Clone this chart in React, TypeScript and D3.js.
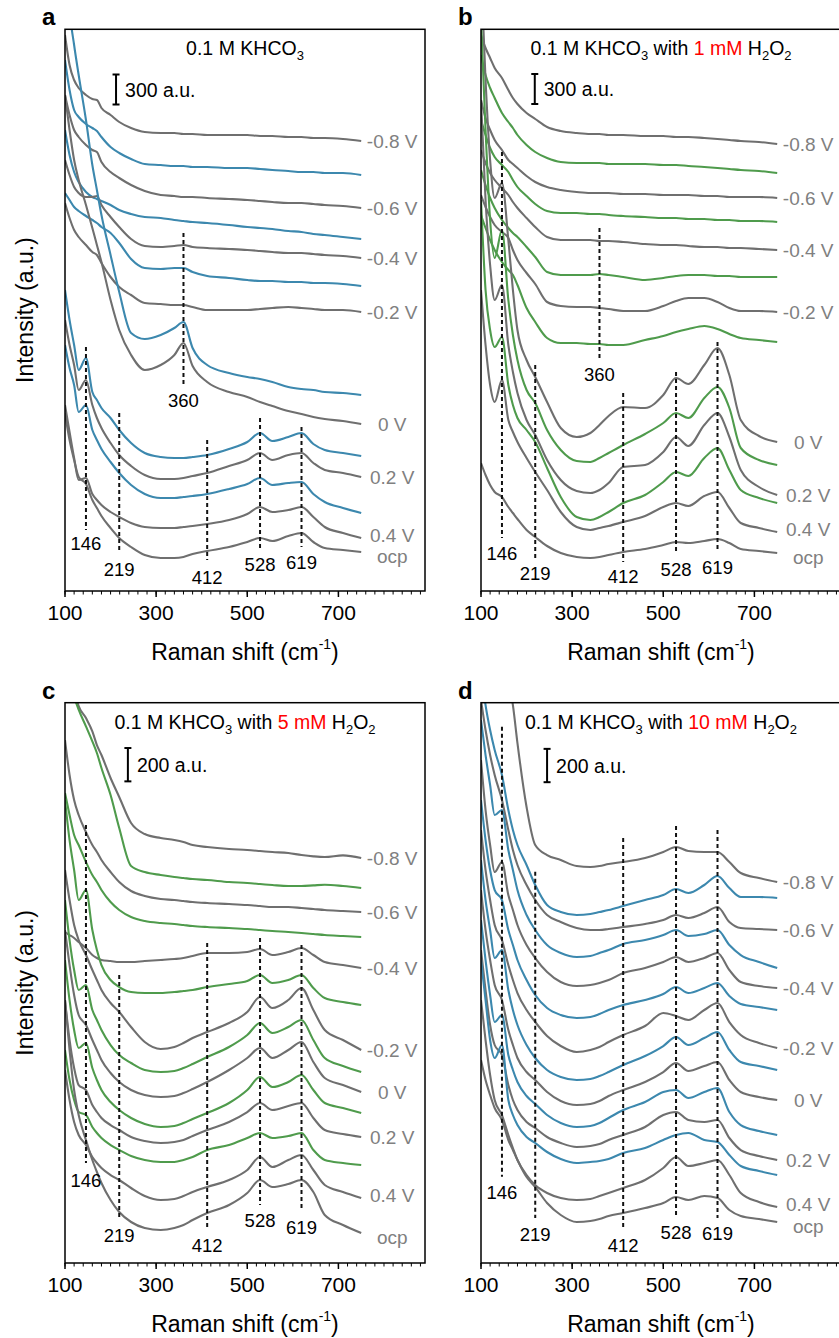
import React from 'react';
import * as d3 from 'd3';

// ---------- shared axis data ----------
const RAMAN_SHIFT = [100,110,120,130,146,160,170,180,200,219,245,275,310,340,360,380,412,460,500,528,555,590,619,645,670,710,750];
const X_TICK_LABELS = [100, 300, 500, 700];
const VOLTAGE_LABELS = ['-0.8 V', '-0.6 V', '-0.4 V', '-0.2 V', '0 V', '0.2 V', '0.4 V', 'ocp'];
const TITLE_CONC = ['', '1 mM', '5 mM', '10 mM'];
const PANEL_LETTERS = ['a', 'b', 'c', 'd'];

// ---------- panel a : 0.1 M KHCO3 (offset-stacked intensities, a.u.) ----------
const A_M08 = [5560,5260,5110,5030,4960,4920,4910,4830,4760,4690,4630,4590,4580,4580,4570,4570,4560,4560,4560,4550,4550,4540,4540,4530,4530,4520,4500];
const A_M07 = [5310,5010,4810,4740,4670,4630,4600,4540,4440,4380,4320,4270,4260,4250,4250,4240,4240,4230,4230,4220,4210,4200,4190,4190,4180,4180,4160];
const A_M06 = [4960,4760,4610,4540,4460,4410,4390,4290,4190,4130,4060,4000,3960,3950,3940,3940,3930,3920,3910,3900,3890,3880,3880,3870,3860,3850,3830];
const A_M05 = [4610,4360,4190,4090,3990,3940,3920,3900,3860,3810,3770,3740,3730,3710,3700,3690,3680,3660,3640,3630,3620,3600,3590,3570,3560,3540,3520];
const A_M04 = [4310,4160,4040,3980,3940,3940,3950,3860,3740,3640,3520,3450,3440,3450,3460,3440,3430,3420,3410,3400,3390,3380,3380,3370,3360,3350,3330];
const A_M03 = [3980,3910,3840,3800,3750,3710,3680,3640,3580,3480,3320,3230,3220,3230,3230,3190,3150,3130,3110,3100,3100,3090,3090,3080,3080,3070,3050];
const A_M02 = [3880,3730,3610,3540,3460,3390,3360,3280,3140,3040,2960,2880,2870,2860,2860,2840,2810,2810,2810,2820,2830,2840,2830,2820,2810,2810,2790];
const A_M01 = [6510,5810,5460,5160,4710,4260,4010,3760,3360,2990,2580,2520,2560,2630,2690,2430,2260,2180,2140,2120,2090,2040,2020,2010,1990,1980,1960];
const A_0 = [4960,4610,4310,4110,3860,3630,3460,3290,2910,2610,2360,2210,2260,2360,2480,2250,2090,1990,1940,1890,1850,1800,1770,1740,1720,1700,1670];
const A_P01 = [3010,2710,2460,2210,2330,1990,1910,1830,1730,1610,1480,1380,1340,1330,1330,1340,1360,1420,1490,1580,1500,1540,1580,1470,1410,1380,1350];
const A_P02 = [2710,2460,2260,2010,2110,1860,1730,1630,1480,1360,1250,1160,1120,1120,1130,1150,1180,1250,1310,1380,1310,1360,1380,1280,1210,1180,1140];
const A_P03 = [2460,2230,2060,1790,1860,1610,1510,1420,1290,1180,1060,970,930,930,940,950,970,1020,1070,1130,1060,1080,1090,970,890,830,780];
const A_P04 = [1860,1590,1330,1110,1130,970,910,860,790,740,680,640,630,630,640,650,670,710,770,840,790,810,840,740,640,580,530];
const A_OCP = [1780,1510,1310,1140,1070,910,830,750,630,530,440,360,330,330,340,370,400,440,490,530,500,550,580,490,430,410,390];

// ---------- panel b : with 1 mM H2O2 ----------
const B_M08 = [5560,5430,5330,5230,5130,5010,4930,4870,4780,4720,4640,4600,4580,4570,4570,4560,4560,4550,4550,4540,4540,4530,4520,4510,4500,4490,4470];
const B_M07 = [5360,5160,5030,4930,4780,4690,4630,4560,4460,4390,4330,4290,4280,4280,4280,4270,4270,4270,4260,4260,4250,4240,4230,4220,4210,4200,4180];
const B_M06 = [4910,4730,4610,4510,4410,4310,4270,4230,4150,4090,4040,4010,3990,3980,3980,3980,3970,3970,3960,3960,3960,3950,3950,3940,3940,3940,3930];
const B_M05 = [4710,4560,4430,4340,4260,4190,4110,4040,3950,3870,3800,3780,3780,3770,3770,3760,3750,3740,3730,3730,3720,3720,3710,3710,3700,3700,3690];
const B_M04 = [4410,4280,4180,4110,4030,3960,3890,3830,3730,3640,3540,3510,3510,3510,3500,3500,3490,3470,3460,3460,3450,3440,3440,3430,3430,3420,3410];
const B_M03 = [4210,4060,3930,3830,3710,3630,3580,3540,3440,3340,3190,3160,3160,3160,3170,3160,3140,3110,3130,3150,3160,3160,3150,3150,3140,3140,3140];
const B_M02 = [3960,3840,3740,3660,3590,3530,3410,3310,3180,3070,2890,2850,2840,2840,2830,2820,2800,2800,2850,2900,2930,2930,2890,2830,2800,2800,2790];
const B_M01 = [3760,3630,3510,3410,3290,3210,3160,3060,2830,2690,2530,2480,2480,2470,2470,2460,2460,2510,2550,2590,2620,2650,2620,2570,2530,2510,2490];
const B_0 = [6210,5110,4310,3930,4080,3510,3010,2610,2310,2140,1890,1630,1540,1580,1660,1750,1840,1830,1960,2130,2070,2260,2430,2160,1710,1550,1490];
const B_P01 = [5710,4610,3710,3330,3610,2910,2560,2310,2010,1880,1610,1410,1300,1290,1330,1380,1460,1570,1680,1780,1730,1930,2040,1830,1430,1310,1260];
const B_P02 = [4910,3910,3260,2910,3060,2460,2190,1980,1710,1560,1310,1110,1000,980,1010,1080,1240,1260,1390,1540,1450,1660,1780,1540,1210,1040,960];
const B_P03 = [3910,3010,2610,2440,2540,2060,1860,1730,1610,1490,1230,940,740,710,740,790,880,960,1090,1190,1150,1330,1430,1210,1010,930,880];
const B_P04 = [3010,2460,2060,1890,2110,1710,1590,1490,1330,1190,1010,790,640,610,630,650,690,750,840,880,850,950,990,830,680,630,590];
const B_OCP = [1280,1160,1060,990,940,840,780,720,610,540,450,380,340,330,340,360,390,420,460,490,480,500,520,480,420,400,380];

// ---------- panel c : with 5 mM H2O2 ----------
const C_M08 = [3738,3570,3438,3342,3270,3190,3108,3048,2910,2796,2640,2574,2550,2538,2526,2508,2496,2484,2478,2472,2466,2460,2448,2440,2436,2446,2430];
const C_M07 = [3650,3520,3400,3320,3220,3130,3060,2970,2808,2610,2382,2346,2328,2316,2310,2304,2298,2286,2280,2274,2268,2262,2262,2266,2270,2262,2250];
const C_M06 = [3138,2928,2778,2688,2586,2508,2466,2418,2346,2286,2232,2202,2184,2178,2172,2166,2160,2154,2148,2142,2136,2136,2130,2124,2118,2112,2106];
const C_M05 = [2820,2688,2568,2508,2406,2328,2286,2238,2166,2118,2076,2052,2040,2034,2028,2022,2016,2010,2004,1998,1992,1986,1980,1974,1968,1962,1956];
const C_M04 = [1986,1968,1950,1926,1890,1848,1830,1818,1812,1806,1806,1812,1818,1824,1830,1842,1860,1860,1866,1884,1848,1866,1890,1848,1806,1788,1770];
const C_M03 = [2778,2538,2358,2178,2238,1998,1878,1788,1698,1656,1626,1620,1620,1626,1632,1638,1656,1674,1692,1728,1680,1698,1728,1650,1590,1566,1548];
const C_M02 = [2358,2178,2028,1938,1848,1758,1698,1638,1560,1506,1416,1326,1284,1296,1320,1350,1386,1440,1506,1596,1530,1578,1650,1518,1398,1338,1278];
const C_M01 = [2178,1938,1758,1638,1668,1518,1458,1398,1308,1248,1200,1158,1146,1152,1170,1194,1236,1296,1368,1440,1380,1416,1458,1338,1230,1182,1146];
const C_0 = [1998,1788,1608,1488,1428,1338,1278,1218,1140,1086,1038,1008,996,1002,1020,1044,1086,1158,1230,1290,1230,1278,1326,1206,1110,1068,1026];
const C_P01 = [1818,1578,1398,1290,1320,1170,1098,1038,966,918,870,834,816,822,840,864,900,960,1038,1116,1056,1086,1128,1038,960,930,900];
const C_P02 = [1578,1338,1170,1068,1038,948,906,870,828,798,756,732,720,726,738,762,798,846,906,960,918,942,960,870,798,774,756];
const C_P03 = [1278,1098,978,906,888,816,780,750,708,678,642,618,606,606,618,636,678,708,750,780,750,762,780,678,618,600,588];
const C_P04 = [1158,978,846,768,708,636,600,570,528,498,450,402,378,384,402,426,456,498,558,636,576,618,648,558,468,426,390];
const C_OCP = [1578,1278,1038,888,738,618,546,480,378,306,246,210,198,210,228,258,300,348,420,498,456,474,498,426,288,228,180];

// ---------- panel d : with 10 mM H2O2 ----------
const D_M08 = [4578,4338,4158,3978,3738,3498,3348,3120,2736,2508,2448,2418,2382,2376,2382,2394,2406,2430,2466,2496,2472,2466,2466,2406,2340,2310,2286];
const D_M07 = [3558,3348,3198,3078,2928,2718,2598,2508,2388,2268,2148,2106,2088,2094,2106,2118,2142,2178,2208,2244,2220,2268,2322,2250,2196,2196,2190];
const D_M06 = [3378,3198,3048,2928,2778,2598,2478,2388,2268,2178,2088,2046,2010,1998,1998,2004,2016,2034,2058,2088,2070,2100,2136,2046,2010,2004,1998];
const D_M05 = [3258,3048,2868,2688,2718,2478,2358,2238,2088,1998,1908,1860,1836,1842,1860,1878,1914,1938,1968,1998,1962,1974,1998,1908,1848,1806,1770];
const D_M04 = [3018,2718,2508,2346,2406,2208,2118,2028,1908,1830,1746,1686,1662,1668,1680,1698,1740,1770,1806,1836,1806,1830,1860,1758,1686,1662,1650];
const D_M03 = [2778,2538,2358,2238,2178,1998,1908,1818,1698,1608,1530,1488,1470,1476,1494,1518,1548,1578,1614,1656,1620,1650,1680,1602,1554,1536,1518];
const D_M02 = [2598,2358,2178,2028,1938,1788,1698,1620,1518,1446,1362,1302,1266,1278,1296,1326,1368,1422,1500,1482,1458,1518,1560,1446,1368,1320,1290];
const D_M01 = [2418,2178,1998,1830,1878,1638,1518,1428,1308,1230,1158,1116,1098,1104,1122,1146,1188,1242,1302,1356,1308,1350,1386,1278,1206,1182,1158];
const D_0 = [2238,1998,1818,1668,1578,1398,1308,1230,1146,1098,1026,972,948,954,972,1002,1038,1086,1146,1200,1152,1182,1206,1098,1026,996,978];
const D_P01 = [2058,1818,1608,1446,1488,1248,1158,1086,1002,954,888,840,816,822,840,870,918,966,1026,1038,990,1026,1050,906,828,792,768];
const D_P02 = [1878,1638,1428,1308,1248,1068,978,918,846,810,756,720,696,702,714,738,768,816,888,906,858,846,858,750,678,642,618];
const D_P03 = [1818,1578,1338,1230,1308,978,888,828,756,720,666,624,600,606,612,624,660,690,738,768,780,738,726,648,582,552,528];
const D_P04 = [1578,1338,1128,978,888,768,690,618,528,468,420,390,378,384,402,420,450,498,570,636,582,600,618,528,420,366,336];
const D_OCP = [1218,1098,1008,930,858,738,678,618,516,456,360,288,246,252,264,282,300,330,360,396,378,402,390,318,282,264,246];

// ---------- peak markers (wavenumber, dashed top / bottom, label height in a.u.) ----------
const A_PEAKS = [146, 219, 360, 412, 528, 619];
const A_PEAK_TOP = [2440, 1780, 3580, 1510, 1730, 1640];
const A_PEAK_BOTTOM = [610, 380, 2060, 310, 430, 440];
const A_PEAK_TEXT = [480, 220, 1910, 140, 270, 290];

const B_PEAKS = [146, 219, 360, 412, 528, 619];
const B_PEAK_TOP = [4390, 2260, 3630, 1980, 2190, 2490];
const B_PEAK_BOTTOM = [530, 330, 2330, 290, 380, 390];
const B_PEAK_TEXT = [380, 180, 2170, 150, 220, 240];

const C_PEAKS = [146, 219, 412, 528, 619];
const C_PEAK_TOP = [2628, 1728, 1920, 1950, 1908];
const C_PEAK_BOTTOM = [600, 258, 198, 348, 318];
const C_PEAK_TEXT = [498, 168, 108, 258, 216];

const D_PEAKS = [146, 219, 412, 528, 619];
const D_PEAK_TOP = [3218, 2348, 2550, 2622, 2598];
const D_PEAK_BOTTOM = [518, 270, 198, 278, 270];
const D_PEAK_TEXT = [422, 174, 108, 186, 180];

// ---------- scale bars ----------
const SCALEBAR_AT = [212, 218, 238, 245];
const SCALEBAR_BASE = [4865, 4870, 2890, 2885];
const SCALEBAR_SIZE = [300, 300, 200, 200];

// series kind: 'g' = gray, labelled; 'c' = coloured, intermediate potential
const SERIES_KIND = ['g','c','g','c','g','c','g','c','g','c','g','c','g','g'];

const PANEL_SERIES = [
  [A_M08, A_M07, A_M06, A_M05, A_M04, A_M03, A_M02, A_M01, A_0, A_P01, A_P02, A_P03, A_P04, A_OCP],
  [B_M08, B_M07, B_M06, B_M05, B_M04, B_M03, B_M02, B_M01, B_0, B_P01, B_P02, B_P03, B_P04, B_OCP],
  [C_M08, C_M07, C_M06, C_M05, C_M04, C_M03, C_M02, C_M01, C_0, C_P01, C_P02, C_P03, C_P04, C_OCP],
  [D_M08, D_M07, D_M06, D_M05, D_M04, D_M03, D_M02, D_M01, D_0, D_P01, D_P02, D_P03, D_P04, D_OCP],
];
const PANEL_PEAKS = [
  [A_PEAKS, A_PEAK_TOP, A_PEAK_BOTTOM, A_PEAK_TEXT],
  [B_PEAKS, B_PEAK_TOP, B_PEAK_BOTTOM, B_PEAK_TEXT],
  [C_PEAKS, C_PEAK_TOP, C_PEAK_BOTTOM, C_PEAK_TEXT],
  [D_PEAKS, D_PEAK_TOP, D_PEAK_BOTTOM, D_PEAK_TEXT],
];

// ---------- styles / layout ----------
const GRAY = '#6f6f6f';
const BLUE = '#3c88ae';
const GREEN = '#4f9b4c';
const LABEL_GRAY = '#808080';
const PANEL_COLOR = [BLUE, GREEN, GREEN, BLUE];
const FONT = '"Liberation Sans", Arial, Helvetica, sans-serif';
// small vertical nudges (px) of the potential labels so 0.4 V / ocp do not collide
const LABEL_NUDGE = [0, 0, 0, 0, 0, 0, -3, 4];

const LAYOUT = [
  { left: 65, top: 29.3, bottom: 591, yMax: 5617, yLabel: true },
  { left: 481, top: 29.3, bottom: 591, yMax: 5617, yLabel: false },
  { left: 65, top: 702.7, bottom: 1263, yMax: 3362, yLabel: true },
  { left: 481, top: 702.7, bottom: 1263, yMax: 3362, yLabel: false },
];
const PLOT_W = 360;

function Title({ x, y, conc }: { x: number; y: number; conc: string }) {
  type Seg = { t: string; sub?: boolean; red?: boolean };
  const segs: Seg[] = [{ t: '0.1 M KHCO' }, { t: '3', sub: true }];
  if (conc) {
    segs.push({ t: ' with ' }, { t: conc, red: true }, { t: ' H' }, { t: '2', sub: true }, { t: 'O' }, { t: '2', sub: true });
  }
  let prevSub = false;
  return (
    <text x={x} y={y} textAnchor="middle" fontSize={19.5} fontFamily={FONT} fill="#000">
      {segs.map((s, i) => {
        let dy = 0;
        if (s.sub && !prevSub) dy = 5;
        else if (!s.sub && prevSub) dy = -5;
        prevSub = !!s.sub;
        return (
          <tspan key={i} dy={dy} fontSize={s.sub ? 13 : 19.5} fill={s.red ? '#ff0000' : '#000'}>
            {s.t}
          </tspan>
        );
      })}
    </text>
  );
}

function Panel({ idx }: { idx: number }) {
  const L = LAYOUT[idx];
  const x = d3.scaleLinear().domain([100, 890]).range([L.left, L.left + PLOT_W]);
  const y = d3.scaleLinear().domain([0, L.yMax]).range([L.bottom, L.top]);
  const line = d3
    .line<number>()
    .defined((_, i) => i < RAMAN_SHIFT.length)
    .x((_, i) => x(RAMAN_SHIFT[i]))
    .y((d) => y(d))
    .curve(d3.curveMonotoneX);
  const series = PANEL_SERIES[idx];
  const [peaks, pTop, pBot, pText] = PANEL_PEAKS[idx];
  const minor = d3.range(100, 891, 20);
  const clipId = `clip-${idx}`;
  const cx = L.left + PLOT_W / 2;
  const labelX = x(750) + 31;

  let labelCount = 0;
  const vLabels: JSX.Element[] = [];
  series.forEach((s, i) => {
    if (SERIES_KIND[i] === 'g') {
      const k = labelCount++;
      vLabels.push(
        <text key={`v${i}`} x={labelX} y={y(s[s.length - 1]) + LABEL_NUDGE[k]} textAnchor="middle" dominantBaseline="central"
          fontSize={19} fontFamily={FONT} fill={LABEL_GRAY}>{VOLTAGE_LABELS[k]}</text>
      );
    }
  });

  const sbX = x(SCALEBAR_AT[idx]);
  const sbY0 = y(SCALEBAR_BASE[idx]);
  const sbY1 = y(SCALEBAR_BASE[idx] + SCALEBAR_SIZE[idx]);

  return (
    <g>
      <defs>
        <clipPath id={clipId}>
          <rect x={L.left} y={L.top} width={PLOT_W} height={L.bottom - L.top} />
        </clipPath>
      </defs>
      <g clipPath={`url(#${clipId})`}>
        {series.map((s, i) => (
          <path key={i} d={line(s) || ''} fill="none" stroke={SERIES_KIND[i] === 'g' ? GRAY : PANEL_COLOR[idx]}
            strokeWidth={2.1} strokeLinejoin="round" />
        ))}
      </g>
      {peaks.map((p, i) => (
        <g key={`p${i}`}>
          <line x1={x(p)} x2={x(p)} y1={y(pTop[i])} y2={y(pBot[i])} stroke="#111" strokeWidth={2} strokeDasharray="4 3" />
          <text x={x(p)} y={y(pText[i])} textAnchor="middle" dominantBaseline="central" fontSize={18.5}
            fontFamily={FONT} fill="#000">{p}</text>
        </g>
      ))}
      {vLabels}
      {/* scale bar */}
      <line x1={sbX} x2={sbX} y1={sbY0} y2={sbY1} stroke="#000" strokeWidth={2} />
      <line x1={sbX - 3.5} x2={sbX + 3.5} y1={sbY0} y2={sbY0} stroke="#000" strokeWidth={2} />
      <line x1={sbX - 3.5} x2={sbX + 3.5} y1={sbY1} y2={sbY1} stroke="#000" strokeWidth={2} />
      <text x={sbX + 9} y={(sbY0 + sbY1) / 2} dominantBaseline="central" fontSize={19.5} fontFamily={FONT} fill="#000">
        {`${SCALEBAR_SIZE[idx]} a.u.`}
      </text>
      {/* frame */}
      <rect x={L.left} y={L.top} width={PLOT_W} height={L.bottom - L.top} fill="none" stroke="#000" strokeWidth={1.5} />
      {/* ticks */}
      {minor.map((t) => (
        <line key={`m${t}`} x1={x(t)} x2={x(t)} y1={L.bottom} y2={L.bottom + 3.5} stroke="#000" strokeWidth={1} />
      ))}
      {X_TICK_LABELS.map((t) => (
        <g key={`t${t}`}>
          <line x1={x(t)} x2={x(t)} y1={L.bottom} y2={L.bottom + 6} stroke="#000" strokeWidth={1.5} />
          <text x={x(t)} y={L.bottom + 21} textAnchor="middle" dominantBaseline="central" fontSize={21}
            fontFamily={FONT} fill="#000">{t}</text>
        </g>
      ))}
      <text x={cx} y={L.bottom + 61} textAnchor="middle" dominantBaseline="central" fontSize={23} fontFamily={FONT} fill="#000">
        Raman shift (cm<tspan dy={-8} fontSize={14}>-1</tspan><tspan dy={8}>)</tspan>
      </text>
      {L.yLabel && (
        <text transform={`translate(25, ${(L.top + L.bottom) / 2}) rotate(-90)`} textAnchor="middle"
          dominantBaseline="central" fontSize={23} fontFamily={FONT} fill="#000">Intensity (a.u.)</text>
      )}
      <Title x={cx} y={L.top + 26} conc={TITLE_CONC[idx]} />
      <text x={L.left - 23} y={L.top - 4} fontSize={24} fontWeight="bold" fontFamily={FONT} fill="#000">
        {PANEL_LETTERS[idx]}
      </text>
    </g>
  );
}

export default function App() {
  return (
    <div style={{ position: 'absolute', left: 0, top: 0 }}>
      <svg width={839} height={1338} viewBox="0 0 839 1338" style={{ display: 'block', background: '#fff' }}>
        <rect x={0} y={0} width={839} height={1338} fill="#fff" />
        {[0, 1, 2, 3].map((i) => (
          <Panel key={i} idx={i} />
        ))}
      </svg>
    </div>
  );
}
